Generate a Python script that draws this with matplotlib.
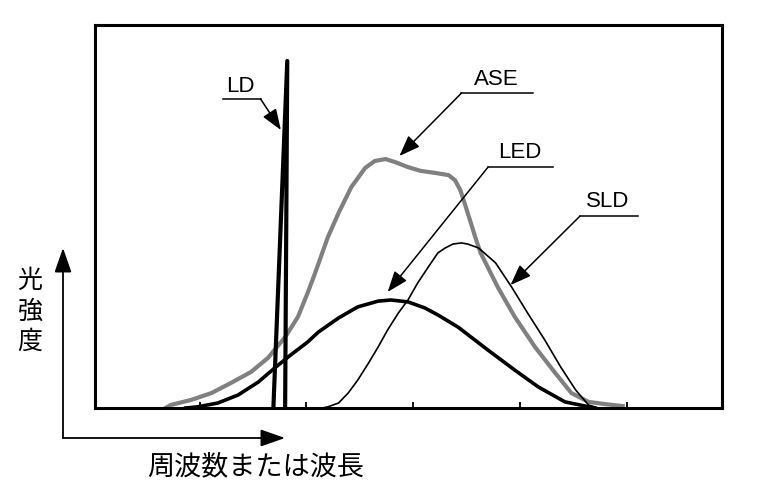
import matplotlib.pyplot as plt

# spectra, x in arbitrary wavelength units (ticks at 1..5), y in relative intensity
ase_x = [0.68, 0.73, 0.92, 1.11, 1.29, 1.48, 1.64, 1.80, 1.92, 2.01, 2.08, 2.20, 2.30,
         2.42, 2.55, 2.64, 2.74, 2.83, 2.95, 3.07, 3.20, 3.33, 3.39, 3.44, 3.48, 3.53,
         3.58, 3.63, 3.70, 3.79, 3.95, 4.14, 4.33, 4.48, 4.64, 4.80, 4.96]
ase_y = [0.0, 0.8, 2.1, 3.9, 6.5, 9.4, 13.1, 18.5, 23.8, 30.0, 35.2, 44.6, 50.9,
         57.7, 62.7, 64.5, 65.0, 64.2, 62.9, 61.9, 61.4, 60.8, 59.5, 56.9, 53.5, 49.1,
         44.6, 40.5, 36.6, 31.6, 23.8, 15.9, 9.1, 3.9, 1.6, 1.0, 0.5]

led_x = [0.87, 0.98, 1.17, 1.36, 1.55, 1.70, 1.85, 2.01, 2.11, 2.30, 2.48, 2.67, 2.79,
         2.95, 3.11, 3.23, 3.42, 3.70, 3.95, 4.17, 4.42, 4.61, 4.70]
led_y = [0.0, 0.3, 1.3, 3.4, 6.8, 10.4, 13.8, 17.2, 19.8, 23.5, 26.4, 27.9, 28.2,
         27.7, 26.1, 24.3, 21.1, 15.1, 9.9, 5.5, 1.6, 0.5, 0.0]

sld_x = [2.15, 2.20, 2.30, 2.39, 2.48, 2.58, 2.67, 2.76, 2.86, 2.95, 3.04, 3.14, 3.23,
         3.30, 3.37, 3.45, 3.51, 3.61, 3.77, 3.92, 4.07, 4.23, 4.38, 4.52, 4.64, 4.73]
sld_y = [0.0, 0.3, 1.3, 3.9, 7.3, 11.7, 15.9, 20.4, 24.8, 28.2, 32.6, 36.8, 40.5,
         41.8, 42.8, 43.1, 42.8, 41.8, 37.9, 31.6, 24.8, 17.8, 10.7, 4.7, 0.8, 0.0]

ld_x = [1.69, 1.82, 1.80]
ld_y = [0.0, 90.6, 0.0]

ticks = [1, 2, 3, 4, 5]

plt.rcParams['font.family'] = ['Liberation Sans', 'Noto Sans CJK JP', 'DejaVu Sans']

fig = plt.figure(figsize=(7.59, 4.93), dpi=100)
ax = fig.add_axes([95 / 759, 85 / 493, 627 / 759, 383 / 493])

ax.plot(ase_x, ase_y, color='#808080', lw=3, solid_joinstyle='round')
ax.plot(led_x, led_y, color='black', lw=2.6, solid_joinstyle='round')
ax.plot(sld_x, sld_y, color='black', lw=1.2, solid_joinstyle='round')
ax.plot(ld_x, ld_y, color='black', lw=3, solid_joinstyle='round', solid_capstyle='round')

ax.set_xlim(0.02, 5.89)
ax.set_ylim(0, 100)
ax.set_xticks(ticks)
ax.set_xticklabels([])
ax.set_yticks([])
ax.tick_params(axis='x', direction='in', length=4, width=1.3)
for s in ax.spines.values():
    s.set_linewidth(2.2)

head = '-|>,head_length=0.8,head_width=0.3'


def label(text, x0, x1, y, tx, ty, tip, from_right=False):
    ax.plot([x0, x1], [y, y], color='black', lw=1.1)
    start = (x1, y) if from_right else (x0, y)
    ax.annotate('', xy=tip, xytext=start,
                arrowprops=dict(arrowstyle=head, mutation_scale=16, color='black',
                                lw=1.1, shrinkA=0, shrinkB=0))
    ax.text(tx, ty, text, ha='center', va='baseline', fontsize=16)


label('LD', 1.22, 1.57, 80.7, 1.38, 82.6, (1.76, 72.6), from_right=True)
label('ASE', 3.45, 4.12, 82.2, 3.78, 84.3, (2.87, 65.8))
label('LED', 3.70, 4.31, 62.9, 4.00, 65.2, (2.76, 30.3))
label('SLD', 4.56, 5.10, 50.1, 4.82, 52.5, (3.91, 32.1))

# outer axis arrows (figure pixels, origin bottom-left)
arr = dict(arrowstyle='-|>,head_length=1.0,head_width=0.35', mutation_scale=15,
           color='black', lw=1.3, shrinkA=0, shrinkB=0)
ax.annotate('', xy=(63, 493 - 248), xytext=(63, 493 - 438), xycoords='figure pixels',
            textcoords='figure pixels', arrowprops=arr)
ax.annotate('', xy=(285, 493 - 438), xytext=(63, 493 - 438), xycoords='figure pixels',
            textcoords='figure pixels', arrowprops=arr)

for ch, py in zip('光強度', [281, 312, 342]):
    fig.text(30 / 759, (493 - py) / 493, ch, ha='center', va='center', fontsize=18,
             family=['Noto Sans CJK JP'])
fig.text(256 / 759, (493 - 467) / 493, '周波数または波長', ha='center', va='center',
         fontsize=19.5, family=['Noto Sans CJK JP'])

fig.savefig('out.png', dpi=100)
